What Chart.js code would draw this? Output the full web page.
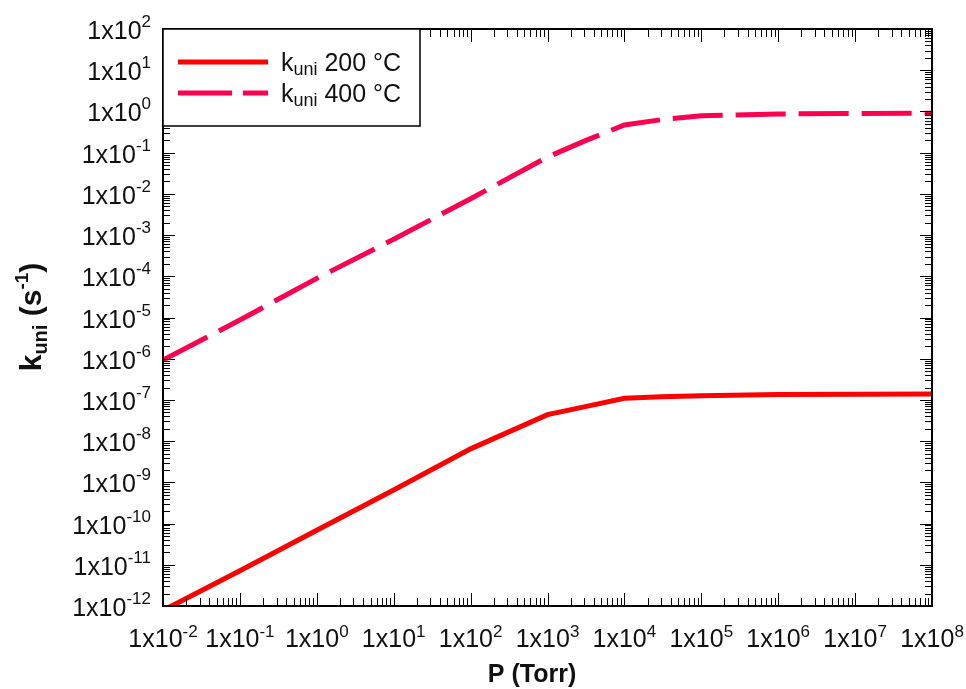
<!DOCTYPE html>
<html>
<head>
<meta charset="utf-8">
<script src="https://cdn.jsdelivr.net/npm/chart.js@4.4.0/dist/chart.umd.min.js"></script>
<style>
  html, body { margin: 0; padding: 0; background: #fff; }
  #wrap { width: 966px; height: 689px; }
</style>
</head>
<body>
<div id="wrap"><canvas id="chart" width="966" height="689"></canvas></div>
<script>
// pressure (Torr) and rate constants
const PRESSURE = [1e-2, 1e-1, 1e0, 1e1, 1e2, 1e3, 3e3, 1e4, 3e4, 1e5, 1e6, 1e7, 1e8];
const K_200 = [7.8e-13, 7.2e-12, 6.9e-11, 6.5e-10, 6.5e-9, 4.4e-8, 6.8e-8, 1.1e-7, 1.2e-7, 1.26e-7, 1.35e-7, 1.38e-7, 1.4e-7];
const K_400 = [9.3e-7, 8.7e-6, 8.9e-5, 7.9e-4, 7.6e-3, 7.8e-2, 1.9e-1, 4.7e-1, 6.3e-1, 7.9e-1, 8.7e-1, 8.9e-1, 9.0e-1];

const X_EXP = [-2, -1, 0, 1, 2, 3, 4, 5, 6, 7, 8];
const Y_EXP = [2, 1, 0, -1, -2, -3, -4, -5, -6, -7, -8, -9, -10, -11, -12];

const LEGEND = [
  { sub: 'uni', rest: ' 200 °C' },
  { sub: 'uni', rest: ' 400 °C' },
];

const FONT = '"Liberation Sans", Arial, sans-serif';
const toXY = ys => PRESSURE.map((p, i) => ({ x: p, y: ys[i] }));

// draws "1x10" with a raised exponent
function powLabel(ctx, exp, x, baseY, align, size, expSize, raise) {
  const base = '1x10';
  const e = String(exp);
  ctx.font = size + 'px ' + FONT;
  const wb = ctx.measureText(base).width;
  ctx.font = expSize + 'px ' + FONT;
  const we = ctx.measureText(e).width;
  const x0 = align === 'right' ? x - wb - we : x - (wb + we) / 2;
  ctx.textAlign = 'left';
  ctx.textBaseline = 'alphabetic';
  ctx.font = size + 'px ' + FONT;
  ctx.fillText(base, x0, baseY);
  ctx.font = expSize + 'px ' + FONT;
  ctx.fillText(e, x0 + wb, baseY - raise);
}

const frame = {
  id: 'frame',
  afterDatasetsDraw(chart) {
    const { ctx, chartArea: a, scales: { x, y } } = chart;
    ctx.save();
    ctx.strokeStyle = '#000';
    ctx.fillStyle = '#111';

    // ticks on all four sides, pointing in
    ctx.lineWidth = 1;
    ctx.beginPath();
    for (let d = -2; d <= 8; d++) {
      for (let m = 1; m <= 9; m++) {
        const v = m * Math.pow(10, d);
        if (v > 1e8) break;
        const px = Math.round(x.getPixelForValue(v)) + 0.5;
        const len = m === 1 ? 13 : 8;
        ctx.moveTo(px, a.bottom); ctx.lineTo(px, a.bottom - len);
        ctx.moveTo(px, a.top); ctx.lineTo(px, a.top + len);
      }
    }
    for (let d = -12; d <= 2; d++) {
      for (let m = 1; m <= 9; m++) {
        const v = m * Math.pow(10, d);
        if (v > 1e2) break;
        const py = Math.round(y.getPixelForValue(v)) + 0.5;
        const len = m === 1 ? 12 : 7;
        ctx.moveTo(a.left, py); ctx.lineTo(a.left + len, py);
        ctx.moveTo(a.right, py); ctx.lineTo(a.right - len, py);
      }
    }
    ctx.stroke();

    ctx.lineWidth = 2;
    ctx.strokeRect(a.left, a.top, a.right - a.left, a.bottom - a.top);

    // tick labels
    X_EXP.forEach(e => {
      powLabel(ctx, e, x.getPixelForValue(Math.pow(10, e)), 647, 'center', 25, 17, 10);
    });
    Y_EXP.forEach(e => {
      const py = y.getPixelForValue(Math.pow(10, e));
      powLabel(ctx, e, 151, py + 10, 'right', 25, 17, 12);
    });

    // axis titles
    ctx.font = 'bold 25px ' + FONT;
    ctx.textAlign = 'center';
    ctx.fillText('P (Torr)', 532, 682);

    ctx.save();
    ctx.translate(41, 317);
    ctx.rotate(-Math.PI / 2);
    const parts = [
      { t: 'k', f: 'bold 30px ', dy: 0 },
      { t: 'uni', f: 'bold 20px ', dy: 6 },
      { t: ' (s', f: 'bold 30px ', dy: 0 },
      { t: '-1', f: 'bold 19px ', dy: -13 },
      { t: ')', f: 'bold 30px ', dy: 0 },
    ];
    let tw = 0;
    parts.forEach(p => { ctx.font = p.f + FONT; p.w = ctx.measureText(p.t).width; tw += p.w; });
    let cx = -tw / 2;
    ctx.textAlign = 'left';
    parts.forEach(p => { ctx.font = p.f + FONT; ctx.fillText(p.t, cx, p.dy); cx += p.w; });
    ctx.restore();

    // legend box
    const lx = a.left, ly = a.top, lw = 257, lh = 97;
    ctx.fillStyle = '#fff';
    ctx.fillRect(lx, ly, lw, lh);
    ctx.lineWidth = 1.5;
    ctx.strokeStyle = '#000';
    ctx.strokeRect(lx, ly, lw, lh);
    ctx.textAlign = 'left';
    chart.data.datasets.forEach((ds, i) => {
      const rowY = [62, 93][i];
      ctx.strokeStyle = ds.borderColor;
      ctx.lineWidth = ds.borderWidth;
      ctx.setLineDash(i === 1 ? [54, 11] : []);
      ctx.beginPath();
      ctx.moveTo(178, rowY); ctx.lineTo(268, rowY);
      ctx.stroke();
      ctx.setLineDash([]);
      ctx.fillStyle = '#111';
      const bl = rowY + 9;
      let tx = 281;
      ctx.font = '25px ' + FONT;
      ctx.fillText('k', tx, bl); tx += ctx.measureText('k').width;
      ctx.font = '18px ' + FONT;
      ctx.fillText(LEGEND[i].sub, tx, bl + 4); tx += ctx.measureText(LEGEND[i].sub).width;
      ctx.font = '25px ' + FONT;
      ctx.fillText(LEGEND[i].rest, tx, bl);
    });
    ctx.restore();
  }
};

new Chart(document.getElementById('chart'), {
  type: 'scatter',
  data: {
    datasets: [
      {
        label: 'kuni 200 °C',
        data: toXY(K_200),
        showLine: true,
        borderColor: '#ff0000',
        backgroundColor: '#ff0000',
        borderWidth: 5,
        pointRadius: 0,
        tension: 0,
        clip: 0,
      },
      {
        label: 'kuni 400 °C',
        data: toXY(K_400),
        showLine: true,
        borderColor: '#ff0050',
        backgroundColor: '#ff0050',
        borderWidth: 5,
        borderDash: [50, 13],
        pointRadius: 0,
        tension: 0,
        clip: 0,
      },
    ]
  },
  options: {
    responsive: false,
    animation: false,
    layout: { padding: { left: 163, right: 34, top: 29, bottom: 83 } },
    scales: {
      x: { type: 'logarithmic', min: 1e-2, max: 1e8, display: false },
      y: { type: 'logarithmic', min: 1e-12, max: 1e2, display: false },
    },
    plugins: {
      legend: { display: false },
      tooltip: { enabled: false },
    }
  },
  plugins: [frame]
});
</script>
</body>
</html>
